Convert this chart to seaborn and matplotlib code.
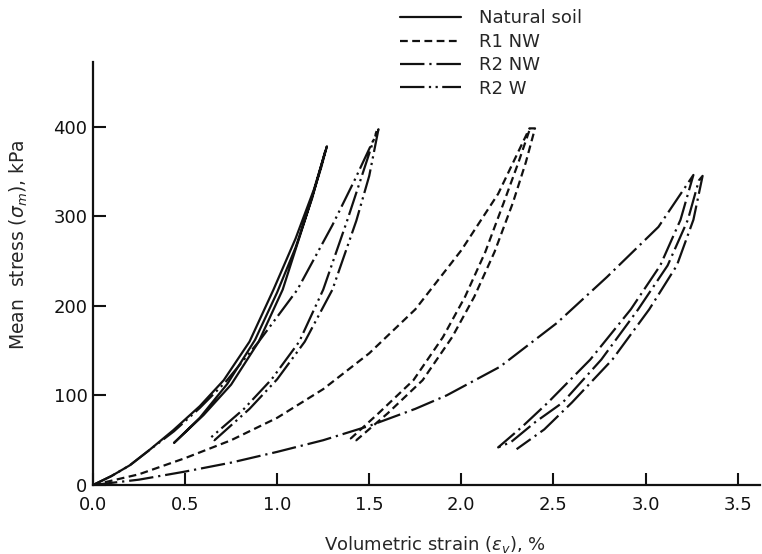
import pandas as pd
import matplotlib
matplotlib.use("Agg")
import matplotlib.pyplot as plt
import seaborn as sns

# volumetric strain (%) and mean stress (kPa), loading -> unloading -> reloading
natural_strain = [0.0, 0.1, 0.2, 0.3, 0.435, 0.58, 0.71, 0.85, 0.98, 1.1, 1.2, 1.27,
                  1.24, 1.15, 1.03, 0.9, 0.75, 0.6, 0.44,
                  0.58, 0.73, 0.88, 1.0, 1.1, 1.19, 1.26]
natural_stress = [0, 10, 22, 38, 61, 88, 117, 160, 218, 275, 330, 378,
                  355, 295, 218, 160, 112, 78, 47,
                  75, 113, 162, 215, 265, 320, 372]

r1nw_strain = [0.0, 0.25, 0.5, 0.75, 1.0, 1.25, 1.5, 1.75, 2.0, 2.2, 2.37,
               2.40, 2.35, 2.28, 2.18, 2.07, 1.95, 1.79, 1.6, 1.43,
               1.40, 1.55, 1.74, 1.9, 2.02, 2.13, 2.23, 2.31, 2.37]
r1nw_stress = [0, 12, 30, 50, 75, 107, 147, 196, 262, 325, 398,
               398, 360, 315, 260, 210, 165, 117, 80, 50,
               52, 80, 117, 165, 210, 260, 315, 360, 396]

r2nw_strain = [0.0, 0.25, 0.5, 0.75, 1.0, 1.25, 1.5, 1.75, 1.92, 2.21, 2.52, 2.79, 3.07, 3.26,
               3.19, 3.08, 2.92, 2.7, 2.47, 2.33, 2.20,
               2.27, 2.40, 2.55, 2.76, 2.96, 3.12, 3.23, 3.29, 3.31,
               3.26, 3.17, 3.02, 2.82, 2.60, 2.45, 2.30]
r2nw_stress = [0, 6, 15, 25, 37, 50, 66, 85, 100, 132, 181, 232, 288, 346,
               296, 245, 196, 140, 92, 65, 42,
               48, 70, 92, 140, 196, 245, 296, 340, 345,
               296, 245, 196, 140, 92, 62, 40]

r2w_strain = [0.0, 0.1, 0.2, 0.3, 0.44, 0.58, 0.72, 0.9, 1.11, 1.3, 1.42, 1.55,
              1.50, 1.43, 1.30, 1.15, 1.0, 0.85, 0.66,
              0.64, 0.82, 0.97, 1.12, 1.25, 1.38, 1.46, 1.54]
r2w_stress = [0, 10, 22, 38, 60, 86, 115, 160, 218, 290, 340, 397,
              345, 295, 218, 160, 118, 85, 50,
              53, 85, 118, 160, 218, 295, 345, 395]

materials = ["Natural soil", "R1 NW", "R2 NW", "R2 W"]
x_ticks = [0.0, 0.5, 1.0, 1.5, 2.0, 2.5, 3.0, 3.5]
y_ticks = [0, 100, 200, 300, 400]

df = pd.concat([
    pd.DataFrame({"strain": natural_strain, "stress": natural_stress, "material": materials[0]}),
    pd.DataFrame({"strain": r1nw_strain, "stress": r1nw_stress, "material": materials[1]}),
    pd.DataFrame({"strain": r2nw_strain, "stress": r2nw_stress, "material": materials[2]}),
    pd.DataFrame({"strain": r2w_strain, "stress": r2w_stress, "material": materials[3]}),
], ignore_index=True)

sns.set_style("ticks")
plt.rcParams["font.family"] = ["DejaVu Sans"]

fig, ax = plt.subplots(figsize=(7.62, 5.54), dpi=100)
fig.subplots_adjust(left=0.122, right=0.997, bottom=0.1245, top=0.888)

dash_map = {
    "Natural soil": "",
    "R1 NW": (3.5, 2),
    "R2 NW": (11, 2.2, 1, 2.2),
    "R2 W": (11, 2, 1, 2, 1, 2),
}

sns.lineplot(
    data=df,
    x="strain",
    y="stress",
    style="material",
    style_order=materials,
    dashes=dash_map,
    color="#111111",
    linewidth=1.6,
    sort=False,
    estimator=None,
    ax=ax,
)

ax.set_xlim(0, 3.62)
ax.set_ylim(0, 472)
ax.set_xticks(x_ticks)
ax.set_xticklabels([f"{t:.1f}" for t in x_ticks])
ax.set_yticks(y_ticks)
ax.tick_params(direction="in", length=9, width=1.5, labelsize=13, pad=4, colors="#111111")
ax.tick_params(axis="x", pad=8)

sns.despine(ax=ax)
for side in ["left", "bottom"]:
    ax.spines[side].set_linewidth(1.6)
    ax.spines[side].set_color("#111111")

ax.set_xlabel(r"Volumetric strain ($\epsilon_v$), %", fontsize=13)
ax.set_ylabel(r"Mean  stress ($\sigma_m$), kPa", fontsize=13.5)
ax.xaxis.set_label_coords(0.513, -0.115)
ax.yaxis.set_label_coords(-0.095, 0.567)

sns.move_legend(
    ax, "upper left",
    bbox_to_anchor=(0.525, 0.983),
    bbox_transform=fig.transFigure,
    title=None,
    frameon=False,
    fontsize=13,
    handlelength=3.4,
    handletextpad=1.0,
    labelspacing=0.3,
    borderpad=0,
    borderaxespad=0,
)

plt.savefig("out.png", dpi=100)
